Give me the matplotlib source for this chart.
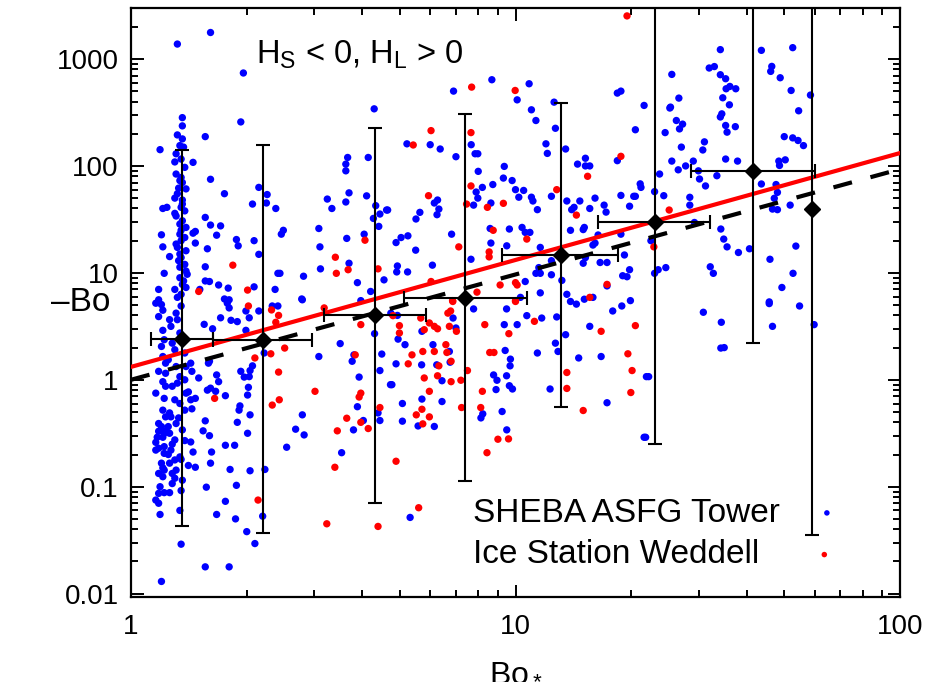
import matplotlib
matplotlib.use("Agg")
import matplotlib.pyplot as plt
import matplotlib.ticker as mticker
import numpy as np

plt.rcParams['font.family'] = ['Liberation Sans', 'DejaVu Sans']
plt.rcParams['mathtext.fontset'] = 'custom'
plt.rcParams['mathtext.rm'] = 'Liberation Sans'
plt.rcParams['mathtext.it'] = 'Liberation Sans:italic'

# ---------------- data ----------------
sheba_pts = [
    (1.32,1380),(1.61,1770),(1.96,740),(1.93,258),(1.19,142),(1.36,283),(1.36,237),(1.32,195),(1.36,179),(1.34,155),
    (1.56,188),(1.45,108),(1.30,109),(1.35,116),(1.31,84),(1.35,78),(1.36,70),(1.61,75),(1.75,55),(2.15,63),(2.26,54),
    (2.25,45),(2.07,44),(2.38,40),(1.21,40),(1.24,41),(1.30,50),(1.30,36),(1.35,41),(1.56,33),(1.61,28),(1.71,27.5),
    (1.67,22.5),(1.47,24.4),(1.45,23.5),(1.20,22.7),(1.21,17.5),(1.47,19),(1.58,16.8),(1.26,14.2),(1.22,9.9),(1.56,11.4),
    (1.56,8.4),(1.60,8.3),(1.69,7.7),(1.88,20.5),(1.90,17.9),(2.09,20),(2.15,14.9),(2.49,25),(2.46,23),(2.41,9.9),
    (2.44,9.9),(2.81,9.3),(2.37,7.0),(2.09,7.4),(1.79,7.2),(1.75,5.7),(1.80,5.6),(1.51,7.0),(1.18,7.0),(1.18,5.6),
    (1.30,7.0),(1.35,6.3),(1.39,10.4),(1.40,9.7),(1.34,11.3),(1.35,13.9),(1.35,20),(1.34,28.6),(1.35,25),(1.36,30.7),
    (1.32,17.3),(1.37,8.4),(1.36,7.8),(2.78,5.7),(3.08,26),(3.10,17.5),(3.11,10.9),(3.24,49),(3.33,40),(3.62,104),
    (3.66,120),(3.62,90),(3.69,56),(3.62,46),(3.64,21),(3.69,12.3),(3.88,8.1),(4.14,120),(4.29,342),(4.10,52.5),
    (4.33,42.5),(4.62,38.7),(4.44,35.5),(4.27,32.3),(4.41,27.2),(4.04,23),(4.20,6.7),(4.55,8.6),(3.96,5.5),
    (1.31,130),(1.38,97),(1.34,73),(1.39,61),(1.32,55),(1.36,44),(1.38,38),(1.31,34),(1.39,26.6),(1.34,23),
    (1.38,21.4),(1.31,18.6),(1.39,16.1),(1.33,13),(1.38,12),(1.34,9.0),(1.39,7.3),(1.32,5.9),(1.37,150),(1.33,62),
    (1.36,48),(1.34,15),
    (1.20,5.05),(1.21,4.47),(1.35,4.9),(1.78,5.2),(1.80,4.7),(1.71,3.8),(1.55,3.3),(1.63,3.0),(1.82,3.6),(1.89,3.5),
    (1.99,4.4),(2.15,4.4),(1.99,2.9),(2.03,3.8),(2.33,4.9),(2.41,4.9),(2.79,5.6),(2.79,0.47),(2.82,0.305),(2.68,0.345),
    (2.54,0.234),(3.08,1.65),(3.50,2.18),(3.76,1.49),(3.80,1.71),(3.92,1.06),(3.88,0.56),(4.02,0.416),(3.79,0.34),
    (3.53,0.208),(4.30,2.7),(4.49,1.74),(4.44,1.22),(4.73,0.90),(4.39,0.49),(4.44,0.416),
    (1.18,3.9),(1.21,2.9),(1.22,2.37),(1.20,2.05),(1.21,1.65),(1.18,1.2),(1.21,0.96),(1.23,0.87),(1.22,0.67),(1.21,0.52),
    (1.20,0.365),(1.22,0.316),(1.18,0.229),(1.22,0.205),(1.20,0.166),(1.18,0.133),(1.21,0.15),(1.18,0.0866),(1.22,0.088),
    (1.26,0.088),(1.18,0.070),(1.19,0.055),(1.35,0.092),(1.36,0.115),(1.34,0.060),(1.35,0.029),(1.20,0.013),(1.56,0.0178),
    (1.80,0.0178),(1.27,0.22),(1.30,0.274),(1.26,0.316),(1.27,0.45),(1.30,0.65),(1.32,0.93),(1.31,1.33),(1.30,1.91),
    (1.27,3.16),(1.32,3.65),(1.38,1.0),(1.38,0.52),(1.35,0.18),(1.28,0.133),(1.22,0.143),(1.30,0.178),(1.22,0.237),
    (1.25,0.365),(1.17,0.29),(1.23,0.45),(1.36,0.34),(1.38,0.27),(1.39,0.75),(1.39,1.33),(1.25,1.54),(1.23,1.15),
    (1.16,5.2),(1.31,4.2),(1.26,3.65),(1.34,2.74),(1.28,2.2),(1.38,1.78),(1.23,1.43),(1.34,1.07),(1.28,0.87),(1.16,0.75),
    (1.34,0.60),(1.26,0.49),(1.31,0.39),(1.18,0.33),(1.21,0.29),(1.28,0.25),(1.16,0.22),(1.34,0.19),(1.26,0.166),
    (1.31,0.143),(1.21,0.124),(1.28,0.107),(1.16,0.075),(1.23,0.33),(1.18,0.39),(1.33,0.44),(1.16,0.26),(1.25,0.2),
    (1.30,0.12),(1.19,0.1),
    (1.43,1.43),(1.44,1.2),(1.50,1.04),(1.41,0.77),(1.43,0.65),(1.47,0.67),(1.44,0.535),(1.56,0.413),(1.54,0.333),
    (1.60,0.30),(1.43,0.262),(1.45,0.211),(1.62,0.211),(1.61,0.166),(1.41,0.158),(1.47,0.152),(1.57,0.099),(1.76,0.073),
    (1.67,0.055),(1.87,0.050),(1.88,0.103),(1.81,0.145),(1.76,0.244),(1.86,0.244),(1.61,0.835),(1.58,0.8),(1.66,0.78),
    (1.69,0.96),(1.67,1.11),(1.76,0.71),(1.60,1.49),(1.59,1.43),(1.93,1.2),(1.97,1.06),(2.03,1.07),(2.04,1.22),
    (2.07,1.35),(2.02,0.85),(2.01,0.72),(1.92,0.57),(1.91,0.52),(2.04,0.47),(1.89,0.40),(2.01,0.316),(2.04,0.141),
    (2.23,0.145),(2.20,0.053),(2.00,0.038),(2.10,0.0294),(2.22,1.78),
    (8.68,640),(6.90,501),(10.85,587),(10.1,415),(11.0,335),(11.3,266),(12.6,395),(12.7,225),(12.0,161),(12.1,131),
    (13.5,144),(5.22,161),(6.0,158),(6.37,144),(7.0,122),(7.67,158),(7.85,130),(7.98,130),(8.0,89),(9.35,99),(9.3,77),
    (9.8,73),(8.73,67),(8.2,63),(7.9,57),(7.98,50),(7.78,43),(8.63,45),(10.0,60),(10.5,59),(10.2,51),(11.0,51),
    (11.1,47),(11.4,39),(12.4,52),(13.6,47),(14.7,47),(14.0,39),(14.2,41),(14.5,104),(15.2,118),(15.2,100),(15.6,100),
    (16.1,50),(15.6,40),(17.0,43),(17.2,37),(18.4,480),(18.8,501),(21.6,368),(20.5,218),(18.4,112),(21.1,68),(21.2,63),
    (20.5,52),(20.3,52),(18.8,53),(19.8,42),(4.65,38.7),(5.51,31.9),(5.64,36.8),(6.27,48),(6.15,45),(6.32,39.5),
    (6.25,35),(5.25,22.2),(5.04,21.4),(4.89,19.2),(6.82,23),(5.5,16.3),(6.08,11.8),(4.93,11.6),(4.91,10.2),(5.24,10.2),
    (7.66,13.4),(8.63,19),(9.49,17.9),(9.64,25.7),(10.4,26.6),(10.9,23.9),(10.6,23.9),(8.59,26),(11.3,9.9),(11.6,9.9),
    (10.6,8.3),(12.4,9.6),(12.4,13),(13.2,8.5),(13.9,25),(15.1,26.6),(15.0,25.4),(15.9,18.2),(16.1,19),(16.4,22.6),
    (17.3,12.5),(16.6,12.5),(15.2,13.9),(15.0,12.3),(19.2,14.7),(18.8,23),(19.0,9.4),(19.5,9.2),(19.8,10.7),(17.3,7.55),
    (19.9,5.5),(13.6,6.3),(11.6,6.5),(10.3,5.9),(15.1,5.67),(15.9,5.9),(11.6,17.3),(11.5,11.2),
    (4.74,4.2),(4.93,4.0),(4.95,2.4),(5.16,2.13),(4.89,1.41),(4.77,0.9),(5.08,0.60),(5.08,0.41),(5.58,0.37),(6.15,0.366),
    (5.71,0.66),(6.44,0.626),(5.70,1.38),(6.24,1.38),(6.76,1.46),(6.44,0.98),(6.1,2.13),(6.73,1.84),(5.71,2.84),
    (6.88,3.78),(7.0,3.05),(7.78,4.6),(9.48,4.6),(9.35,3.28),(10.1,3.28),(10.7,3.98),(11.7,3.78),(12.8,3.87),(13.5,2.64),
    (12.7,2.2),(12.9,1.84),(11.4,1.78),(9.4,1.88),(9.7,1.56),(9.68,1.35),(9.48,1.09),(8.77,1.11),(8.95,0.99),(8.9,0.81),
    (9.64,0.88),(9.82,0.82),(12.3,0.82),(9.23,0.505),(8.22,0.48),(8.13,0.44),(9.49,0.34),(14.6,1.6),(15.6,3.16),
    (16.7,1.65),(17.3,0.61),(17.9,4.4),(18.9,4.9),(21.9,1.07),(21.6,0.29),(5.32,0.0516),(13.9,5.4),(14.4,5.1),
    (34.1,1224),(43.6,1205),(52.6,1277),(31.9,824),(32.9,850),(34.1,713),(35.2,654),(36.1,554),(37.4,527),(35.3,527),
    (34.6,434),(36.0,373),(34.4,307),(34.1,287),(35.2,239),(35.5,207),(37.3,233),(25.5,718),(26.6,431),(25.3,355),
    (25.2,348),(26.2,266),(27.2,246),(26.7,222),(24.5,205),(27.0,150),(31.0,168),(30.7,141),(25.5,111),(26.5,92),
    (27.7,100),(29.0,111),(35.2,116),(37.8,111),(29.9,90),(30.1,75.5),(31.2,65),(33.4,81),(23.7,84),(23.0,57.5),
    (24.3,52.7),(28.4,50.9),(28.4,43),(43.6,67.8),(46.1,766),(46.4,853),(48.8,668),(52.1,508),(58.5,460),(54.5,328),
    (50.0,188),(52.6,183),(54.3,173),(56.1,155),(48.4,111),(50.3,114),(48.6,101),(47.6,67),(48.0,56.6),(47.1,49.8),
    (46.6,39.5),(48.0,39),(51.8,43),(53.6,17.8),(45.9,13.4),(52.7,9.9),(49.3,7.3),(45.7,5.35),(34.2,25.7),(34.8,20.7),
    (35.5,17.5),(38.0,15.5),(40.6,16.8),(32.1,11.4),(32.7,9.9),(24.6,11.2),(23.5,10.7),(23.0,9.9),(22.5,20),(29.2,29.6),
    (30.8,4.28),(34.3,3.45),(34.2,1.98),(34.9,2.0),(45.7,5.16),(46.6,3.16),(54.8,4.9),(59.8,3.28),(22.2,1.07),(21.8,0.29),
]
weddell_pts = [
    (1.84,11.8),(2.01,6.9),(1.50,6.7),(4.06,20.2),(3.40,14.0),(3.42,9.9),(3.67,10.7),(4.39,10.9),
    (1.65,0.67),(2.02,4.9),(2.32,4.5),(2.42,4.0),(2.38,3.45),(2.10,1.6),(2.31,1.75),(2.51,1.98),(2.42,1.18),(2.33,0.58),
    (2.43,0.65),(3.01,0.78),(2.14,0.075),(3.39,0.152),(3.44,0.333),(3.64,0.437),(3.96,0.40),(4.14,0.35),(3.92,0.69),
    (3.96,0.75),(3.83,1.71),(3.96,3.28),(4.44,0.55),(3.23,0.045),(4.39,0.0425),(3.18,4.7),
    (19.5,2530),(7.69,546),(9.98,508),(6.03,214),(5.42,157),(7.66,205),(18.8,123),(15.4,80),(12.8,60),(7.66,65),
    (5.94,52.7),(7.46,44),(8.45,41),(9.3,44.7),(14.4,34.7),(8.75,25),(10.7,20.7),(7.12,17.5),(8.54,15.7),(8.54,14.1),
    (6.03,8.3),(9.12,7.7),(10.0,8.1),(10.1,7.7),(7.94,6.6),(6.86,5.5),(10.0,5.5),(17.3,7.8),(15.6,5.9),
    (4.80,3.98),(4.99,3.21),(4.99,2.74),(5.38,1.71),(5.26,1.41),(5.67,3.78),(5.79,2.94),(5.97,3.4),(6.15,3.16),(6.27,3.0),
    (5.74,1.84),(6.15,1.84),(6.59,2.13),(6.63,1.8),(6.80,1.49),(6.73,3.16),(7.02,2.84),(6.67,4.2),(6.78,4.4),(6.87,5.4),
    (6.32,1.35),(6.27,1.09),(5.79,1.04),(6.80,0.96),(7.21,0.99),(7.5,1.22),(5.97,0.78),(5.71,0.53),(5.52,0.47),(5.97,0.45),
    (5.74,0.387),(7.24,0.55),(4.89,0.173),(5.60,0.0636),(8.32,3.28),(8.57,1.8),(8.79,1.8),(9.61,2.7),(10.0,5.4),(11.2,3.52),
    (8.2,0.78),(8.12,0.55),(8.43,0.208),(9.0,0.278),(9.59,0.28),(13.6,1.17),(13.6,0.83),(15.0,0.516),(16.7,2.84),
    (20.5,3.21),(19.6,1.75),(20.1,1.22),(19.95,0.76),(25.1,38.7),(22.9,17.5),
]
sheba_x = [p[0] for p in sheba_pts]
sheba_y = [p[1] for p in sheba_pts]
weddell_x = [p[0] for p in weddell_pts]
weddell_y = [p[1] for p in weddell_pts]

# bin averages with error bars
bin_x   = [1.36, 2.21, 4.31, 7.40, 13.1, 23.0, 41.5, 59.2]
bin_y   = [2.42, 2.37, 4.0, 5.87, 14.7, 30.0, 90.4, 39.2]
bin_xlo = [1.13, 1.63, 3.17, 5.14, 9.25, 16.4, 28.6, 59.2]
bin_xhi = [1.63, 2.96, 5.84, 10.7, 18.5, 32.0, 60.0, 59.2]
bin_ylo = [0.043, 0.0366, 0.070, 0.113, 0.56, 0.251, 2.21, 0.035]
bin_yhi = [141, 157, 225, 306, 386, 5000, 5000, 5000]

# fitted power laws  -Bo = a * Bo*^b
fit_red = (1.32, 1.0)
fit_black = (1.0, 0.985)

# ---------------- figure ----------------
fig = plt.figure(figsize=(9.28, 6.90), dpi=100)
ax = fig.add_axes([131/928, 1-597/690, (900-131)/928, (597-8)/690])
ax.set_xscale('log')
ax.set_yscale('log')
ax.set_xlim(1, 100)
ax.set_ylim(0.0093, 3000)

sc1 = ax.scatter(sheba_x, sheba_y, s=28, c='#0000ff', edgecolors='none', zorder=2,
                 label='SHEBA ASFG Tower')
sc2 = ax.scatter(weddell_x, weddell_y, s=28, c='#ff0000', edgecolors='none', zorder=2.1,
                 label='Ice Station Weddell')

xl = np.logspace(0, 2, 200)
ax.plot(xl, fit_red[0]*xl**fit_red[1], color='#ff0000', lw=3, zorder=3)
ax.plot(xl, fit_black[0]*xl**fit_black[1], color='black', lw=3, zorder=3,
        linestyle=(0, (4.6, 4.6)))

bx = np.array(bin_x); by = np.array(bin_y)
xerr = np.vstack([bx-np.array(bin_xlo), np.array(bin_xhi)-bx])
yerr = np.vstack([by-np.array(bin_ylo), np.array(bin_yhi)-by])
ax.errorbar(bx, by, xerr=xerr, yerr=yerr, fmt='D', color='black', ms=8,
            elinewidth=1.5, capsize=5, capthick=1.5, zorder=4)

# axes styling
for sp in ax.spines.values():
    sp.set_linewidth(1.6)
ax.tick_params(which='both', direction='in', top=True, right=True, width=1.4)
ax.tick_params(which='major', length=9, labelsize=20)
ax.tick_params(which='minor', length=5)
ax.tick_params(axis='x', which='major', pad=12)
ax.tick_params(axis='y', which='major', pad=9)
ax.xaxis.set_major_locator(mticker.LogLocator(base=10, numticks=10))
ax.yaxis.set_major_locator(mticker.LogLocator(base=10, numticks=10))
ax.xaxis.set_minor_locator(mticker.LogLocator(base=10, subs=np.arange(2, 10), numticks=20))
ax.yaxis.set_minor_locator(mticker.LogLocator(base=10, subs=np.arange(2, 10), numticks=20))
fmt = mticker.FuncFormatter(lambda v, _: f'{v:g}')
ax.xaxis.set_major_formatter(fmt)
ax.yaxis.set_major_formatter(fmt)
ax.xaxis.set_minor_formatter(mticker.NullFormatter())
ax.yaxis.set_minor_formatter(mticker.NullFormatter())

ax.set_xlabel(r'$\mathregular{Bo_*}$', fontsize=23, labelpad=12)
ax.set_ylabel('\u2013Bo', fontsize=24, rotation=0, va='center')
ax.yaxis.set_label_coords(-0.066, 0.50)

ax.text(0.163, 0.905, r'$\mathregular{H_S}$ < 0, $\mathregular{H_L}$ > 0', transform=ax.transAxes,
        fontsize=23.5, ha='left', va='baseline')

leg = ax.legend(handles=[sc1, sc2], loc='lower left', bbox_to_anchor=(0.4235, 0.017),
                frameon=False, markerfirst=False, fontsize=24, markerscale=0.75,
                handlelength=1.0, handletextpad=0.9, labelspacing=0.32, borderpad=0.0)
# texts left-aligned, markers near the right end of each row
try:
    col = leg._legend_handle_box.get_children()[0]
    col.align = 'left'
    rows = col.get_children()
    rows[1].sep = rows[1].sep + 13
except Exception:
    pass

fig.savefig('out.png', dpi=100)
